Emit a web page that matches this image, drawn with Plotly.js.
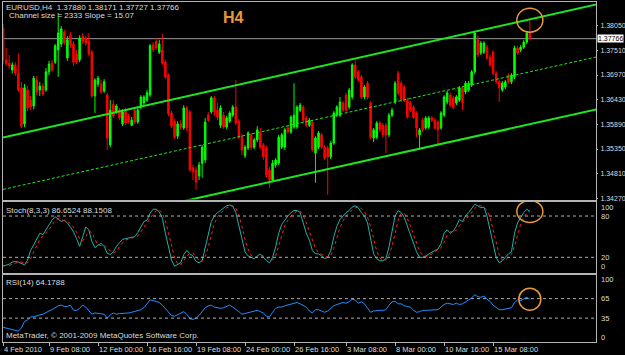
<!DOCTYPE html>
<html><head><meta charset="utf-8">
<script src="https://cdn.plot.ly/plotly-3.0.1.min.js"></script>
<style>html,body{margin:0;padding:0;background:#000;}#chart{width:625px;height:355px;}</style>
</head><body><div id="chart"></div>
<script>
// ---- EURUSD H4 candles (oldest -> newest) ----
const openP = [1.3800,1.3730,1.3723,1.3708,1.3719,1.3701,1.3669,1.3590,1.3664,1.3642,
1.3629,1.3686,1.3664,1.3673,1.3664,1.3704,1.3723,1.3725,1.3752,1.3765,
1.3791,1.3734,1.3784,1.3765,1.3743,1.3730,1.3782,1.3778,1.3771,1.3747,
1.3651,1.3677,1.3677,1.3662,1.3653,1.3544,1.3633,1.3616,1.3620,1.3590,
1.3620,1.3607,1.3587,1.3620,1.3594,1.3627,1.3636,1.3642,1.3653,1.3763,
1.3771,1.3747,1.3752,1.3725,1.3697,1.3614,1.3596,1.3563,1.3590,1.3581,
1.3625,1.3616,1.3494,1.3489,1.3476,1.3504,1.3511,1.3609,1.3616,1.3647,
1.3620,1.3587,1.3609,1.3583,1.3596,1.3609,1.3627,1.3596,1.3563,1.3520,
1.3537,1.3566,1.3539,1.3555,1.3570,1.3544,1.3537,1.3489,1.3467,1.3500,
1.3504,1.3539,1.3539,1.3581,1.3572,1.3583,1.3583,1.3620,1.3627,1.3603,
1.3587,1.3594,1.3526,1.3539,1.3566,1.3539,1.3537,1.3518,1.3548,1.3609,
1.3609,1.3636,1.3653,1.3627,1.3649,1.3719,1.3704,1.3693,1.3649,1.3679,
1.3636,1.3559,1.3561,1.3592,1.3587,1.3587,1.3566,1.3609,1.3638,1.3701,
1.3679,1.3671,1.3642,1.3636,1.3627,1.3614,1.3566,1.3598,1.3581,1.3583,
1.3603,1.3598,1.3594,1.3581,1.3609,1.3638,1.3653,1.3647,1.3636,1.3642,
1.3669,1.3660,1.3664,1.3675,1.3704,1.3774,1.3745,1.3747,1.3758,1.3736,
1.3747,1.3701,1.3682,1.3664,1.3671,1.3697,1.3682,1.3693,1.3756,1.3752,
1.3758,1.3769,1.37880];
const highP = [1.3809,1.3756,1.3741,1.3725,1.3725,1.3745,1.3682,1.3677,1.3673,1.3651,
1.3695,1.3695,1.3682,1.3679,1.3712,1.3728,1.3730,1.3765,1.3833,1.3804,
1.3796,1.3782,1.3791,1.3771,1.3752,1.3784,1.3789,1.3782,1.3789,1.3752,
1.3690,1.3695,1.3686,1.3688,1.3658,1.3642,1.3642,1.3633,1.3625,1.3622,
1.3625,1.3612,1.3605,1.3625,1.3625,1.3653,1.3653,1.3664,1.3765,1.3769,
1.3778,1.3774,1.3787,1.3730,1.3701,1.3618,1.3601,1.3596,1.3598,1.3631,
1.3629,1.3620,1.3500,1.3496,1.3507,1.3544,1.3603,1.3616,1.3651,1.3651,
1.3636,1.3631,1.3616,1.3607,1.3618,1.3631,1.3686,1.3601,1.3568,1.3544,
1.3574,1.3570,1.3559,1.3585,1.3581,1.3548,1.3542,1.3496,1.3511,1.3515,
1.3566,1.3570,1.3581,1.3585,1.3609,1.3679,1.3631,1.3636,1.3631,1.3607,
1.3603,1.3598,1.3563,1.3574,1.3570,1.3544,1.3542,1.3553,1.3618,1.3631,
1.3649,1.3640,1.3658,1.3669,1.3723,1.3730,1.3708,1.3697,1.3675,1.3684,
1.3640,1.3581,1.3596,1.3596,1.3592,1.3592,1.3614,1.3625,1.3684,1.3706,
1.3684,1.3675,1.3647,1.3640,1.3631,1.3618,1.3581,1.3603,1.3607,1.3607,
1.3607,1.3603,1.3598,1.3618,1.3653,1.3662,1.3658,1.3651,1.3653,1.3673,
1.3673,1.3684,1.3684,1.3708,1.3793,1.3784,1.3771,1.3771,1.3763,1.3741,
1.3752,1.3706,1.3686,1.3684,1.3686,1.3701,1.3701,1.3761,1.3761,1.3763,
1.3774,1.3793,1.38171];
const lowP = [1.3721,1.3717,1.3710,1.3701,1.3695,1.3660,1.3581,1.3583,1.3618,1.3620,
1.3622,1.3653,1.3651,1.3651,1.3660,1.3697,1.3704,1.3721,1.3693,1.3758,
1.3763,1.3728,1.3756,1.3717,1.3721,1.3725,1.3765,1.3761,1.3739,1.3647,
1.3614,1.3671,1.3655,1.3658,1.3533,1.3539,1.3603,1.3612,1.3598,1.3585,
1.3587,1.3590,1.3585,1.3590,1.3590,1.3622,1.3631,1.3638,1.3649,1.3747,
1.3752,1.3743,1.3719,1.3688,1.3607,1.3581,1.3557,1.3557,1.3577,1.3577,
1.3574,1.3485,1.3467,1.3446,1.3467,1.3472,1.3504,1.3594,1.3612,1.3607,
1.3598,1.3581,1.3579,1.3579,1.3592,1.3605,1.3587,1.3557,1.3522,1.3515,
1.3533,1.3533,1.3535,1.3550,1.3535,1.3511,1.3472,1.3450,1.3463,1.3494,
1.3500,1.3535,1.3533,1.3568,1.3568,1.3579,1.3579,1.3616,1.3594,1.3583,
1.3583,1.3529,1.3461,1.3535,1.3535,1.3511,1.3435,1.3513,1.3544,1.3605,
1.3605,1.3616,1.3616,1.3622,1.3644,1.3688,1.3682,1.3644,1.3644,1.3644,
1.3557,1.3550,1.3557,1.3572,1.3561,1.3526,1.3561,1.3605,1.3633,1.3653,
1.3638,1.3638,1.3601,1.3616,1.3601,1.3561,1.3537,1.3572,1.3577,1.3579,
1.3594,1.3577,1.3544,1.3577,1.3605,1.3633,1.3627,1.3622,1.3631,1.3638,
1.3620,1.3655,1.3660,1.3671,1.3699,1.3736,1.3741,1.3743,1.3730,1.3715,
1.3697,1.3677,1.3638,1.3660,1.3666,1.3677,1.3677,1.3688,1.3741,1.3747,
1.3754,1.3765,1.37727];
const closeP = [1.3730,1.3723,1.3717,1.3719,1.3701,1.3664,1.3585,1.3669,1.3625,1.3627,
1.3690,1.3660,1.3673,1.3655,1.3704,1.3721,1.3708,1.3761,1.3789,1.3798,
1.3767,1.3774,1.3763,1.3725,1.3725,1.3778,1.3771,1.3767,1.3743,1.3651,
1.3686,1.3690,1.3660,1.3682,1.3559,1.3620,1.3607,1.3629,1.3603,1.3616,
1.3592,1.3594,1.3598,1.3594,1.3620,1.3649,1.3649,1.3658,1.3761,1.3752,
1.3756,1.3765,1.3723,1.3693,1.3612,1.3585,1.3561,1.3590,1.3583,1.3625,
1.3581,1.3489,1.3485,1.3463,1.3500,1.3539,1.3594,1.3598,1.3647,1.3616,
1.3605,1.3625,1.3583,1.3603,1.3614,1.3627,1.3592,1.3561,1.3533,1.3539,
1.3570,1.3539,1.3555,1.3577,1.3539,1.3518,1.3478,1.3467,1.3504,1.3511,
1.3561,1.3566,1.3577,1.3572,1.3605,1.3609,1.3627,1.3631,1.3598,1.3587,
1.3598,1.3533,1.3559,1.3570,1.3539,1.3515,1.3518,1.3548,1.3614,1.3627,
1.3638,1.3620,1.3620,1.3664,1.3719,1.3693,1.3686,1.3649,1.3671,1.3649,
1.3561,1.3577,1.3592,1.3577,1.3566,1.3566,1.3609,1.3620,1.3679,1.3658,
1.3642,1.3642,1.3605,1.3620,1.3605,1.3581,1.3577,1.3577,1.3603,1.3603,
1.3598,1.3581,1.3577,1.3614,1.3649,1.3658,1.3631,1.3627,1.3649,1.3669,
1.3636,1.3679,1.3679,1.3704,1.3789,1.3741,1.3767,1.3767,1.3734,1.3719,
1.3701,1.3682,1.3669,1.3679,1.3682,1.3682,1.3697,1.3756,1.3745,1.3758,
1.3769,1.3789,1.37766];

// ---- Stochastic(8,3,3) ----
const stochMain = [7,8,10,13,14,13,11,9,16,30,
38,46,55,53,60,66,74,79,75,72,
74,70,64,57,47,36,50,64,60,43,
34,38,40,36,26,24,28,36,41,46,
47,48,48,50,56,65,72,74,84,90,
90,86,77,55,35,16,7,9,12,24,
30,25,22,14,12,15,35,55,72,80,
85,88,92,95,96,94,85,65,45,28,
22,20,18,22,25,20,15,12,20,35,
55,68,75,80,85,88,88,85,70,55,
45,30,25,25,22,18,20,30,50,65,
75,80,85,88,93,95,92,85,80,70,
45,25,18,15,15,18,35,55,80,88,
85,78,65,55,40,28,20,20,22,25,
28,30,32,40,55,60,55,58,65,75,
72,80,85,92,97,95,92,93,80,60,
40,20,12,15,20,25,28,55,70,78,
85,90,86.6524];
const stochSignal = [8,8,8,10,12,13,13,11,12,18,
28,38,46,51,56,60,67,73,76,75,
74,72,69,64,56,47,44,50,58,56,
46,38,37,38,34,29,26,29,35,41,
45,47,48,49,51,57,64,70,77,83,
88,89,84,73,56,35,19,11,9,15,
22,26,26,20,16,14,21,35,54,69,
79,84,88,92,94,95,92,81,65,46,
32,23,20,20,22,22,20,16,16,22,
37,53,66,74,80,84,87,87,81,70,
57,43,33,27,24,22,20,23,33,48,
63,73,80,84,89,92,93,91,86,78,
65,47,29,19,16,16,23,36,57,74,
84,84,76,66,53,41,29,23,21,22,
25,28,30,34,42,52,57,58,59,66,
71,76,79,86,91,95,95,93,88,78,
60,40,24,16,16,20,24,36,51,68,
78,84,88.1508];
const stochLevels = [80, 20];

// ---- RSI(14) ----
const rsi = [21,20,19,18,17,15,20,30,32,37,
37,39,40,41,44,46,48,51,54,55,
53,53,55,47,47,50,55,52,46,41,
43,42,41,41,35,40,43,41,42,42,
43,43,44,45,46,48,51,58,63,62,
61,59,55,50,44,39,38,40,43,45,
41,34,33,35,39,45,51,54,55,52,
51,50,51,53,55,52,49,45,41,42,
44,45,46,47,45,43,38,37,44,50,
52,52,54,55,56,58,59,57,54,52,
46,43,48,48,46,44,46,50,54,56,
58,59,58,60,64,63,58,60,57,51,
44,46,47,47,47,48,55,60,61,57,
57,54,53,52,47,44,45,47,47,47,
47,47,48,52,56,58,57,56,58,56,
57,60,62,66,71,68,67,69,64,61,
55,52,48,48,49,50,51,59,63,62,
65,67,64.1788];
const rsiLevels = [65, 35];

// ---- Regression channel (bar index -> price) ----
const chanBars = [1, 195];
const chanUpper = [1.3560, 1.3852];
const chanMiddle = [1.34465, 1.3737];
const chanLower = [1.3333, 1.3622];

// ---- axis labels ----
const priceTicks = [1.34270,1.34810,1.35350,1.35890,1.36430,1.36970,1.37510,1.38050];
const timeTickBars = [1,16,32,48,64,80,96,113,129,145,161];
const timeLabels = ["4 Feb 2010","9 Feb 08:00","12 Feb 00:00","16 Feb 16:00","19 Feb 08:00","24 Feb 00:00","26 Feb 16:00","3 Mar 08:00","8 Mar 00:00","10 Mar 16:00","15 Mar 08:00"];
const stochTicks = [100, 80, 20, 0];
const rsiTicks = [100, 65, 35, 0];

const bars = openP.map((_, i) => i + 1);
const last = openP.length - 1;
const FONT = 'Liberation Sans, Arial, sans-serif';
const TXT = '#dcdcdc';
const BORDER = '#b4b4b4';
const ORANGE = '#e8973a';
const GREEN = '#1ee61e';

const traces = [
  {type:'candlestick', x:bars, open:openP, high:highP, low:lowP, close:closeP, xaxis:'x', yaxis:'y',
   increasing:{line:{color:'#00ff00', width:1}, fillcolor:'#00ff00'},
   decreasing:{line:{color:'#ff0000', width:1}, fillcolor:'#ff0000'},
   whiskerwidth:0, hoverinfo:'skip', showlegend:false},
  {type:'scatter', mode:'lines', x:chanBars, y:chanUpper, xaxis:'x', yaxis:'y', line:{color:GREEN, width:2}, showlegend:false, hoverinfo:'skip'},
  {type:'scatter', mode:'lines', x:chanBars, y:chanLower, xaxis:'x', yaxis:'y', line:{color:GREEN, width:2}, showlegend:false, hoverinfo:'skip'},
  {type:'scatter', mode:'lines', x:chanBars, y:chanMiddle, xaxis:'x', yaxis:'y', line:{color:GREEN, width:1, dash:'3px,2px'}, showlegend:false, hoverinfo:'skip'},
  {type:'scatter', mode:'lines', x:bars, y:stochMain, xaxis:'x2', yaxis:'y2', line:{color:'#20b2aa', width:1}, showlegend:false, hoverinfo:'skip'},
  {type:'scatter', mode:'lines', x:bars, y:stochSignal, xaxis:'x2', yaxis:'y2', line:{color:'#ff2020', width:1, dash:'dot'}, showlegend:false, hoverinfo:'skip'},
  {type:'scatter', mode:'lines', x:bars, y:rsi, xaxis:'x3', yaxis:'y3', line:{color:'#1e90ff', width:1}, showlegend:false, hoverinfo:'skip'}
];

const baseX = {range:[0.98, 194.6], showgrid:false, zeroline:false, showline:true, mirror:true,
  linecolor:BORDER, linewidth:1, showticklabels:false, ticks:'', fixedrange:true};
const baseY = {showgrid:false, zeroline:false, showline:true, mirror:true, linecolor:BORDER, linewidth:1, side:'right', fixedrange:true};

const shapes = [
  {type:'line', xref:'paper', x0:0, x1:1, yref:'y', y0:closeP[last], y1:closeP[last], line:{color:'#9a9a9a', width:1}, layer:'below'}
];
stochLevels.forEach(v => shapes.push({type:'line', xref:'paper', x0:0, x1:1, yref:'y2', y0:v, y1:v, line:{color:'#b0b0b0', width:1, dash:'3px,3px'}}));
rsiLevels.forEach(v => shapes.push({type:'line', xref:'paper', x0:0, x1:1, yref:'y3', y0:v, y1:v, line:{color:'#b0b0b0', width:1, dash:'3px,3px'}}));
// highlight circles around the last bar
shapes.push({type:'circle', xref:'x', yref:'y', xsizemode:'pixel', ysizemode:'pixel', xanchor:bars[last], yanchor:highP[last], x0:-13, x1:13, y0:-12, y1:12, line:{color:ORANGE, width:1.5}});
shapes.push({type:'circle', xref:'x2', yref:'y2', xsizemode:'pixel', ysizemode:'pixel', xanchor:bars[last], yanchor:stochMain[last], x0:-13, x1:13, y0:-11, y1:11, line:{color:ORANGE, width:1.5}});
shapes.push({type:'circle', xref:'x3', yref:'y3', xsizemode:'pixel', ysizemode:'pixel', xanchor:bars[last], yanchor:rsi[last], x0:-11, x1:11, y0:-11, y1:11, line:{color:ORANGE, width:1.5}});

const f5 = v => v.toFixed(5);
const annotations = [
  {xref:'paper', yref:'paper', x:0.002, y:0.9838, xanchor:'left', yanchor:'middle', showarrow:false,
   text:'EURUSD,H4\u00a0\u00a0' + [openP[last], highP[last], lowP[last], closeP[last]].map(f5).join(' '), font:{family:FONT, size:8, color:TXT}},
  {xref:'paper', yref:'paper', x:0.007, y:0.960, xanchor:'left', yanchor:'middle', showarrow:false,
   text:'Channel size = 2333 Slope = 15.07', font:{family:FONT, size:8, color:TXT}},
  {xref:'paper', yref:'paper', x:0.389, y:0.954, xanchor:'center', yanchor:'middle', showarrow:false,
   text:'<b>H4</b>', font:{family:FONT, size:16, color:ORANGE}},
  {xref:'paper', yref:'paper', x:0.002, y:(342-210)/340, xanchor:'left', yanchor:'middle', showarrow:false,
   text:'Stoch(8,3,3) ' + stochMain[last].toFixed(4) + ' ' + stochSignal[last].toFixed(4), font:{family:FONT, size:8, color:TXT}},
  {xref:'paper', yref:'paper', x:0.002, y:(342-282)/340, xanchor:'left', yanchor:'middle', showarrow:false,
   text:'RSI(14) ' + rsi[last].toFixed(4), font:{family:FONT, size:8, color:TXT}},
  {xref:'paper', yref:'paper', x:0.002, y:(342-335.5)/340, xanchor:'left', yanchor:'middle', showarrow:false,
   text:'MetaTrader, © 2001-2009 MetaQuotes Software Corp.', font:{family:FONT, size:8, color:TXT}},
  {xref:'paper', yref:'y', x:1, y:closeP[last], xanchor:'left', yanchor:'middle', xshift:1, showarrow:false,
   text:f5(closeP[last]), bgcolor:'#ffffff', borderpad:0, font:{family:FONT, size:7, color:'#000000'}}
];
timeTickBars.forEach((b, k) => annotations.push({xref:'x3', yref:'paper', x:b, y:0, xanchor:'left', yanchor:'top', yshift:-1, xshift:-1, showarrow:false,
  text:timeLabels[k], font:{family:FONT, size:7.5, color:TXT}}));
const stochShift = {100:-5.5, 80:0, 20:0, 0:4.4};
stochTicks.forEach(v => annotations.push({xref:'paper', yref:'y2', x:1, y:v, yshift:stochShift[v], xanchor:'left', yanchor:'middle', xshift:3, showarrow:false,
  text:String(v), font:{family:FONT, size:7.5, color:TXT}}));
const rsiShift = {100:-3.4, 65:0, 35:0, 0:3.6};
rsiTicks.forEach(v => annotations.push({xref:'paper', yref:'y3', x:1, y:v, yshift:rsiShift[v], xanchor:'left', yanchor:'middle', xshift:3, showarrow:false,
  text:String(v), font:{family:FONT, size:7.5, color:TXT}}));

const layout = {
  width:625, height:355,
  margin:{l:3, r:29, t:2, b:13, pad:0},
  paper_bgcolor:'#000000', plot_bgcolor:'#000000',
  showlegend:false, hovermode:false,
  xaxis: Object.assign({}, baseX, {anchor:'y', domain:[0,1], rangeslider:{visible:false}}),
  xaxis2: Object.assign({}, baseX, {anchor:'y2', domain:[0,1], matches:'x'}),
  xaxis3: Object.assign({}, baseX, {anchor:'y3', domain:[0,1], matches:'x', ticks:'outside', ticklen:3, tickcolor:BORDER, tickvals:timeTickBars}),
  yaxis: Object.assign({}, baseY, {anchor:'x', domain:[0.4191,1], range:[1.34244,1.38569],
    tickvals:priceTicks, ticktext:priceTicks.map(f5), ticks:'outside', ticklen:1, tickcolor:BORDER,
    ticklabelstandoff:1, tickfont:{family:FONT, size:7, color:TXT}}),
  yaxis2: Object.assign({}, baseY, {anchor:'x2', domain:[0.2044,0.4132], range:[-2.1,101.1], showticklabels:false}),
  yaxis3: Object.assign({}, baseY, {anchor:'x3', domain:[0,0.1985], range:[-1.7,102.1], showticklabels:false}),
  shapes: shapes,
  annotations: annotations
};

Plotly.newPlot('chart', traces, layout, {displayModeBar:false, staticPlot:true});
</script>
</body></html>
